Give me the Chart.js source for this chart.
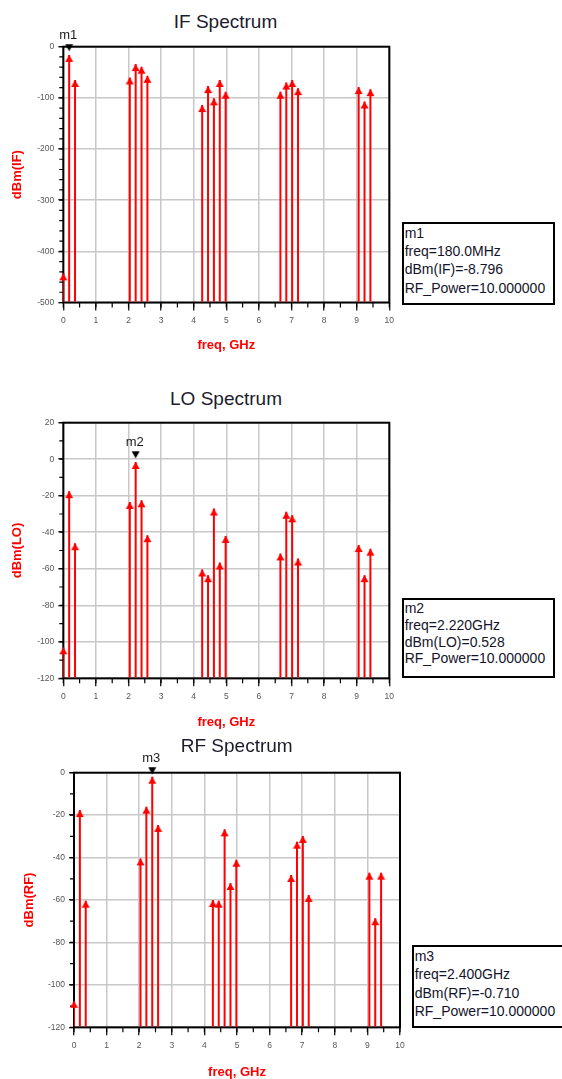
<!DOCTYPE html>
<html>
<head>
<meta charset="utf-8">
<script src="https://cdn.jsdelivr.net/npm/chart.js@4.4.0/dist/chart.umd.min.js"></script>
<style>
  html, body { margin: 0; padding: 0; background: #fff; overflow: hidden; }
  body { width: 562px; height: 1079px; position: relative; font-family: "Liberation Sans", Arial, sans-serif; }
  canvas { position: absolute; left: 0; }
  .title { position: absolute; width: 200px; font-size: 19px; line-height: 19px; color: #1c1c2c; text-align: center; white-space: nowrap; }
  .mbox { position: absolute; box-sizing: border-box; border: 2px solid #000; font-size: 14px; color: #14142a; padding-left: 1px; white-space: nowrap; overflow: hidden; background: #fff; }
</style>
</head>
<body>

<div class="title" style="left:125.5px; top:11.7px">IF Spectrum</div>
<canvas id="ifChart" width="400" height="362" style="top:0px"></canvas>
<div class="mbox" id="ifBox" style="left:401.7px; top:221.7px; width:153.3px; height:83.3px; line-height:18.3px"></div>

<div class="title" style="left:126px; top:388.7px">LO Spectrum</div>
<canvas id="loChart" width="400" height="356" style="top:380px"></canvas>
<div class="mbox" id="loBox" style="left:401.7px; top:598.3px; width:153.3px; height:80px; line-height:16.7px"></div>

<div class="title" style="left:136.7px; top:736.2px">RF Spectrum</div>
<canvas id="rfChart" width="412" height="352" style="top:730px"></canvas>
<div class="mbox" id="rfBox" style="left:411.7px; top:945px; width:160px; height:83px; line-height:18.3px"></div>

<script>
// spectral lines (GHz) shared by all three plots
const freqGHz = [0, 0.18, 0.36, 2.04, 2.22, 2.4, 2.58, 4.26, 4.44, 4.62, 4.8, 4.98, 6.66, 6.84, 7.02, 7.2, 9.06, 9.24, 9.42];

const ifDbm = [-443, -16, -65, -60, -34, -39, -57, -114, -77, -101, -65, -88, -88, -70, -65, -81, -79, -107, -83];
const loDbm = [-103, -17.5, -46, -23.4, -1.5, -22.5, -41.6, -60.4, -63.5, -27, -56.6, -42, -51.6, -28.8, -30.7, -54.4, -47, -63.5, -49];
const rfDbm = [-107.5, -17.6, -60.3, -40.4, -16, -1.9, -24.6, -60, -60.3, -26.7, -52, -41, -48.2, -32.5, -29.8, -57.6, -47.1, -68.6, -47.1];

const xTicks = [0, 1, 2, 3, 4, 5, 6, 7, 8, 9, 10];
const ifYTicks = [0, -100, -200, -300, -400, -500];
const loYTicks = [20, 0, -20, -40, -60, -80, -100, -120];
const rfYTicks = [0, -20, -40, -60, -80, -100, -120];

const ifMarker = { name: 'm1', x: 0.18, y: -8.796 };
const loMarker = { name: 'm2', x: 2.22, y: 0.528 };
const rfMarker = { name: 'm3', x: 2.4, y: -0.710 };

const ifMarkerText = ['m1', 'freq=180.0MHz', 'dBm(IF)=-8.796', 'RF_Power=10.000000'];
const loMarkerText = ['m2', 'freq=2.220GHz', 'dBm(LO)=0.528', 'RF_Power=10.000000'];
const rfMarkerText = ['m3', 'freq=2.400GHz', 'dBm(RF)=-0.710', 'RF_Power=10.000000'];

Chart.defaults.font.family = '"Liberation Sans", Arial, sans-serif';

const RED = '#ff0000';
const GRID = '#c8c8c8';

function triImage(color, down) {
  const c = document.createElement('canvas');
  c.width = 9; c.height = 16;
  const g = c.getContext('2d');
  g.fillStyle = color;
  g.beginPath();
  if (down) { g.moveTo(0.5, 1); g.lineTo(8.5, 1); g.lineTo(4.5, 8); }
  else { g.moveTo(4.5, 8); g.lineTo(8.5, 15); g.lineTo(0.5, 15); }
  g.closePath();
  g.fill();
  return c;
}
const redTri = triImage(RED, false);
const blackTri = triImage('#000', true);

// frame, minor ticks and marker name
const framePlugin = {
  id: 'frame',
  beforeDatasetsDraw(chart, args, o) {
    const { ctx, chartArea: a, scales: { x, y } } = chart;
    ctx.save();
    ctx.strokeStyle = '#000';
    ctx.lineWidth = 1.2;
    ctx.beginPath();
    for (let v = x.min; v <= x.max + 1e-9; v += o.xMinor) {
      const px = x.getPixelForValue(v);
      ctx.moveTo(px, a.bottom); ctx.lineTo(px, a.bottom + 5);
    }
    for (let v = y.min; v <= y.max + 1e-9; v += o.yMinor) {
      const py = y.getPixelForValue(v);
      ctx.moveTo(a.left - 4, py); ctx.lineTo(a.left, py);
    }
    ctx.stroke();
    ctx.lineWidth = 2;
    ctx.strokeRect(a.left, a.top, a.right - a.left, a.bottom - a.top);
    ctx.restore();
  },
  afterDatasetsDraw(chart, args, o) {
    const { ctx, scales: { x, y } } = chart;
    ctx.save();
    ctx.font = '13px "Liberation Sans", Arial, sans-serif';
    ctx.fillStyle = '#1a1a1a';
    ctx.textAlign = 'center';
    ctx.fillText(o.marker.name, x.getPixelForValue(o.marker.x) - 1, y.getPixelForValue(o.marker.y) - 12);
    ctx.restore();
  }
};

function spectrum(id, values, yTicks, yMinor, yLabel, marker, L) {
  const yMin = Math.min(...yTicks), yMax = Math.max(...yTicks);
  const canvas = document.getElementById(id);
  const w = canvas.width, h = canvas.height;
  return new Chart(canvas, {
    type: 'bar',
    data: {
      datasets: [
        {
          type: 'bar',
          data: freqGHz.map((f, i) => ({ x: f, y: values[i] })),
          base: yMin,
          backgroundColor: RED,
          barThickness: 2,
          inflateAmount: 0,
          order: 3
        },
        {
          type: 'scatter',
          data: freqGHz.map((f, i) => ({ x: f, y: values[i] })),
          pointStyle: redTri,
          pointRadius: 4,
          clip: false,
          order: 2
        },
        {
          type: 'scatter',
          data: [{ x: marker.x, y: marker.y }],
          pointStyle: blackTri,
          pointRadius: 4,
          clip: false,
          order: 1
        }
      ]
    },
    options: {
      responsive: false,
      animation: false,
      events: [],
      layout: { padding: { left: 0, top: L.top, right: w - L.right, bottom: 0 } },
      plugins: {
        legend: { display: false },
        tooltip: { enabled: false },
        frame: { xMinor: 0.5, yMinor: yMinor, marker: marker }
      },
      scales: {
        x: {
          type: 'linear', min: 0, max: 10, offset: false,
          afterBuildTicks: s => { s.ticks = xTicks.map(v => ({ value: v })); },
          afterFit: s => { s.height = h - L.bottom; },
          grid: { color: GRID, lineWidth: 1.5, tickColor: '#000', tickLength: 8, tickWidth: 1.2, offset: false },
          border: { display: false },
          ticks: { font: { size: 8.5 }, color: '#555', padding: 5, maxRotation: 0, autoSkip: false },
          title: {
            display: true, text: 'freq, GHz', color: RED,
            font: { size: 13, weight: 'bold' },
            padding: { top: 0, bottom: h - L.xTitle - 7.8 }
          }
        },
        y: {
          type: 'linear', min: yMin, max: yMax,
          afterBuildTicks: s => { s.ticks = yTicks.slice().reverse().map(v => ({ value: v })); },
          afterFit: s => { s.width = L.left; },
          grid: { color: GRID, lineWidth: 1.5, tickColor: '#000', tickLength: 5, tickWidth: 1.2 },
          border: { display: false },
          ticks: { font: { size: 8.5 }, color: '#555', padding: 4, autoSkip: false },
          title: {
            display: true, text: yLabel, color: RED,
            font: { size: 13, weight: 'bold' },
            padding: { top: L.yTitle - 7.8, bottom: 0 }
          }
        }
      }
    },
    plugins: [framePlugin]
  });
}

function fillBox(id, lines) {
  const box = document.getElementById(id);
  lines.forEach(t => {
    const d = document.createElement('div');
    d.textContent = t;
    box.appendChild(d);
  });
}

spectrum('ifChart', ifDbm, ifYTicks, 20, 'dBm(IF)', ifMarker,
  { left: 63.3, right: 389.3, top: 46.7, bottom: 302.5, xTitle: 345, yTitle: 17 });
spectrum('loChart', loDbm, loYTicks, 10, 'dBm(LO)', loMarker,
  { left: 63.3, right: 389.3, top: 42.7, bottom: 298.3, xTitle: 342.7, yTitle: 17 });
spectrum('rfChart', rfDbm, rfYTicks, 10, 'dBm(RF)', rfMarker,
  { left: 74, right: 400, top: 42.7, bottom: 297.3, xTitle: 342.7, yTitle: 29 });

fillBox('ifBox', ifMarkerText);
fillBox('loBox', loMarkerText);
fillBox('rfBox', rfMarkerText);
</script>
</body>
</html>
